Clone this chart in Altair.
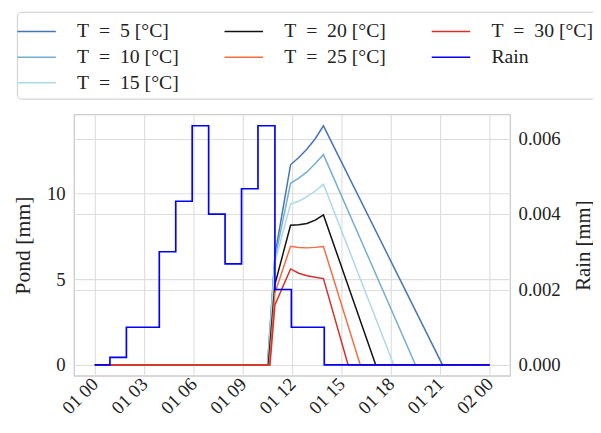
import altair as alt
import pandas as pd

# ---- data (hours since 01 00) ----
SP = "\u2002"
series = [f"T{SP}={SP}{t} [°C]" for t in (5, 10, 15, 20, 25, 30)]

h_T5 = [0, 10.50, 10.95, 11.90, 12.40, 12.90, 13.40, 13.90, 21.14, 24]
p_T5 = [0, 0, 6.40, 11.68, 12.10, 12.60, 13.20, 13.95, 0, 0]

h_T10 = [0, 10.50, 10.95, 11.90, 12.40, 12.90, 13.40, 13.90, 19.50, 24]
p_T10 = [0, 0, 6.20, 10.60, 10.90, 11.26, 11.75, 12.27, 0, 0]

h_T15 = [0, 10.52, 10.95, 11.90, 12.40, 12.90, 13.40, 13.90, 18.18, 24]
p_T15 = [0, 0, 6.00, 9.40, 9.55, 9.82, 10.15, 10.54, 0, 0]

h_T20 = [0, 10.55, 10.95, 11.90, 12.40, 12.90, 13.40, 13.90, 17.08, 24]
p_T20 = [0, 0, 4.70, 8.15, 8.18, 8.25, 8.45, 8.75, 0, 0]

h_T25 = [0, 10.60, 10.95, 11.90, 12.40, 12.90, 13.40, 13.90, 16.14, 24]
p_T25 = [0, 0, 4.20, 6.92, 6.85, 6.83, 6.86, 6.91, 0, 0]

h_T30 = [0, 10.65, 10.95, 11.90, 12.40, 12.90, 13.40, 13.90, 15.40, 24]
p_T30 = [0, 0, 3.50, 5.60, 5.35, 5.20, 5.12, 5.04, 0, 0]

rain_h = [0, 0.92, 1.92, 3.92, 4.92, 5.92, 6.92, 7.92, 8.92, 9.92, 10.95, 11.95, 13.95, 24]
rain_v = [0, 0.0002, 0.001, 0.003, 0.00434, 0.00634, 0.004, 0.00268, 0.00467, 0.00634,
          0.002, 0.001, 0, 0]

x_ticks = [0, 3, 6, 9, 12, 15, 18, 21, 24]
pond_ticks = [0, 5, 10]
rain_ticks = [0, 0.002, 0.004, 0.006]

series_colors = ["#4575b4", "#74add1", "#abd9e9", "#111111", "#f46d43", "#d73027"]
rain_name = "Rain"
rain_color = "#0000ff"

# legend: 3 columns filled row by row -> reorder so it reads column by column
all_names = series + [rain_name]
all_colors = series_colors + [rain_color]
legend_idx = [0, 3, 5, 1, 4, 6, 2]
legend_order = [all_names[i] for i in legend_idx]
legend_colors = [all_colors[i] for i in legend_idx]

# ---- build tables ----
hs = [h_T5, h_T10, h_T15, h_T20, h_T25, h_T30]
ps = [p_T5, p_T10, p_T15, p_T20, p_T25, p_T30]
rows = []
for k, (name, hh, pp) in enumerate(zip(series, hs, ps)):
    for a, b in zip(hh, pp):
        rows.append({"h": a, "pond": b, "series": name, "k": k})
pond_df = pd.DataFrame(rows)
rain_df = pd.DataFrame({"h": rain_h, "rain": rain_v, "series": rain_name})

FONT = "Liberation Serif"

x_enc = alt.X(
    "h:Q",
    scale=alt.Scale(domain=[-1.26, 25.25], nice=False, zero=False),
    axis=alt.Axis(
        values=x_ticks,
        labelExpr="datum.value == 24 ? '02 00' : '01 ' + (datum.value < 10 ? '0' : '') + datum.value",
        labelAngle=315, labelAlign="right", labelBaseline="middle",
        labelPadding=5, labelFontSize=19, title=None,
        grid=True, ticks=False, domain=False,
    ),
)

color_enc = alt.Color(
    "series:N",
    scale=alt.Scale(domain=legend_order, range=legend_colors),
    legend=alt.Legend(
        title=None, orient="none", legendX=-58, legendY=-104,
        values=legend_order, direction="horizontal",
        columns=3, columnPadding=42, rowPadding=2,
        symbolType="M-1.5,0H1.5", symbolSize=676, symbolStrokeWidth=1.6,
        labelOffset=27, labelFontSize=20, labelFont=FONT, labelColor="#222222",
        strokeColor="#cccccc", fillColor="white", cornerRadius=4, padding=6,
        symbolLimit=0, labelLimit=300,
    ),
)

pond = alt.Chart(pond_df).mark_line(strokeWidth=1.5).encode(
    x=x_enc,
    y=alt.Y(
        "pond:Q",
        scale=alt.Scale(domain=[-0.635, 14.62], nice=False, zero=False),
        axis=alt.Axis(values=pond_ticks, title="Pond [mm]", grid=True, ticks=False,
                      domain=False, labelPadding=9, titlePadding=12),
    ),
    color=color_enc,
    order=alt.Order("h:Q"),
    detail="k:N",
)

rain = alt.Chart(rain_df).mark_line(strokeWidth=1.7, interpolate="step-after").encode(
    x=x_enc,
    y=alt.Y(
        "rain:Q",
        scale=alt.Scale(domain=[-0.000288, 0.006642], nice=False, zero=False),
        axis=alt.Axis(orient="right", values=rain_ticks, format=".3f", title="Rain [mm]",
                      grid=True, ticks=False, domain=False, labelPadding=8,
                      titleAngle=270, titleBaseline="top", titlePadding=13,
                      titleFontSize=21),
    ),
    color=color_enc,
)

chart = (
    alt.layer(pond, rain)
    .resolve_scale(y="independent")
    .properties(
        width=442, height=265,
        autosize=alt.AutoSizeParams(type="none"),
        padding={"left": 67, "top": 105, "right": 84, "bottom": 45},
    )
    .configure_view(stroke="#cccccc", strokeWidth=1.3)
    .configure_axis(
        gridColor="#dddddd", gridWidth=1.1,
        labelFont=FONT, titleFont=FONT, labelColor="#222222", titleColor="#222222",
        labelFontSize=19, titleFontSize=22, titleFontWeight="normal",
    )
)

chart.save("out.html", embed_options={"renderer": "svg", "actions": False})
